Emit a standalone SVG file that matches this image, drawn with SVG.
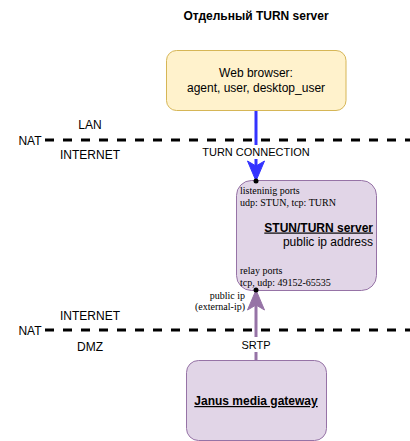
<svg xmlns="http://www.w3.org/2000/svg" width="410" height="441" viewBox="0 0 410 441">
<style>
.sans{font-family:"Liberation Sans",Arial,sans-serif;fill:#000}
.serif{font-family:"Liberation Serif","Times New Roman",serif;fill:#000;font-size:10px}
.purple{fill:#e1d5e7;stroke:#9673a6;stroke-width:1}
.nat{stroke:#000;stroke-width:3;stroke-dasharray:9 9;fill:none}
</style>
<rect width="410" height="441" fill="#fff"/>
<text class="sans" x="256" y="19.5" font-size="12" font-weight="bold" text-anchor="middle">Отдельный TURN server</text>

<g id="nat-lines">
<line class="nat" x1="45" y1="140" x2="410" y2="140"/>
<line class="nat" x1="45" y1="330" x2="410" y2="330"/>
<text class="sans" x="30" y="144.5" font-size="12" text-anchor="middle">NAT</text>
<text class="sans" x="90" y="129" font-size="12" text-anchor="middle">LAN</text>
<text class="sans" x="90" y="159" font-size="12" text-anchor="middle">INTERNET</text>
<text class="sans" x="30" y="334.5" font-size="12" text-anchor="middle">NAT</text>
<text class="sans" x="90" y="319.5" font-size="12" text-anchor="middle">INTERNET</text>
<text class="sans" x="90" y="350.5" font-size="12" text-anchor="middle">DMZ</text>
</g>

<g id="connectors">
<line x1="256" y1="110" x2="256" y2="166" stroke="#3333ff" stroke-width="3"/>
<path d="M247.5,161 L256,181 L264.5,161 L256,166 Z" fill="#3333ff" stroke="#3333ff" stroke-width="1"/>
<rect x="202" y="145" width="108" height="14" fill="#fff"/>
<text class="sans" x="256" y="156" font-size="11" text-anchor="middle">TURN CONNECTION</text>
<line x1="256" y1="360" x2="256" y2="305" stroke="#9673a6" stroke-width="3"/>
<path d="M247.5,310 L256,290 L264.5,310 L256,305 Z" fill="#9673a6" stroke="#9673a6" stroke-width="1"/>
<rect x="239" y="337" width="34" height="15" fill="#fff"/>
<text class="sans" x="256" y="349" font-size="11" text-anchor="middle">SRTP</text>
<text class="serif" x="245" y="298.5" text-anchor="end">public ip</text>
<text class="serif" x="245" y="309.5" text-anchor="end">(external-ip)</text>
</g>

<g id="web-browser">
<rect x="166.5" y="50.5" width="179.5" height="60" rx="10" ry="10" fill="#fff2cc" stroke="#d6b656"/>
<text class="sans" x="256" y="77" font-size="12" text-anchor="middle">Web browser:</text>
<text class="sans" x="256" y="91.5" font-size="12" text-anchor="middle">agent, user, desktop_user</text>
</g>

<g id="stun-turn-server">
<rect class="purple" x="236.5" y="180.5" width="140" height="110" rx="15" ry="15"/>
<text class="serif" x="240" y="194">listeninig ports</text>
<text class="serif" x="240" y="206">udp: STUN, tcp: TURN</text>
<text class="sans" x="373" y="231.5" font-size="12" font-weight="bold" text-anchor="end" text-decoration="underline">STUN/TURN server</text>
<text class="sans" x="373" y="245.5" font-size="12" text-anchor="end">public ip address</text>
<text class="serif" x="240" y="274">relay ports</text>
<text class="serif" x="240" y="286">tcp, udp: 49152-65535</text>
<circle cx="256" cy="181" r="2.5" fill="#000"/>
<circle cx="256" cy="290" r="2.5" fill="#000"/>
</g>

<g id="janus">
<rect class="purple" x="186.5" y="360.5" width="140" height="80" rx="12" ry="12"/>
<text class="sans" x="256" y="405" font-size="12" font-weight="bold" text-anchor="middle" text-decoration="underline">Janus media gateway</text>
</g>
</svg>
